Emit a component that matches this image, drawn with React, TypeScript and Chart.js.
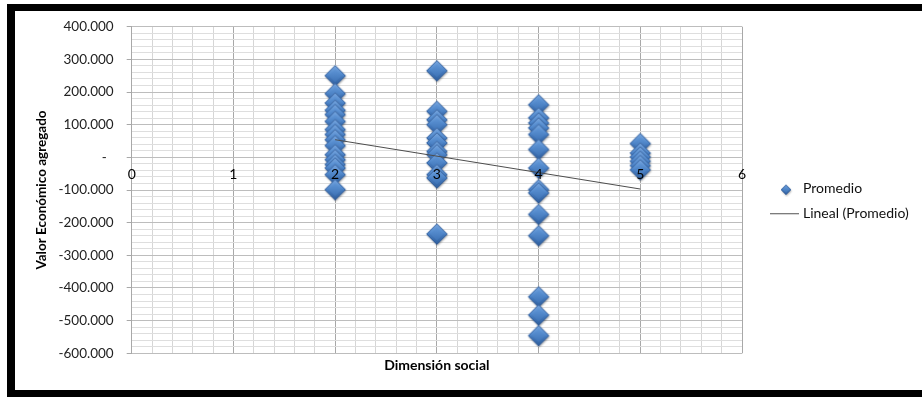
import { useEffect, useRef } from "react";
import { Chart, registerables } from "chart.js";

Chart.register(...registerables);

// "Promedio" values grouped by the social dimension score (x)
const promedioDim2 = [250000, 195000, 166000, 144000, 131000, 110000, 85000, 70000, 54000, 36000, 8000, -7000, -22000, -33000, -53000, -99000];
const promedioDim3 = [265000, 141000, 115000, 100000, 59000, 44000, 18000, 8000, -17000, -53000, -63000, -235000];
const promedioDim4 = [161000, 121000, 105000, 90000, 70000, 24000, -33000, -99000, -109000, -175000, -240000, -427000, -483000, -546000];
const promedioDim5 = [42000, 13000, 1000, -12000, -25000, -38000];
const dimensiones = [2, 3, 4, 5];

// Linear trend ("Lineal (Promedio)") end points
const tendenciaX = [2, 5];
const tendenciaY = [54000, -97000];

const X_MIN = 0;
const X_MAX = 6;
const Y_MIN = -600000;
const Y_MAX = 400000;

const SERIES_LABEL = "Promedio";
const TREND_LABEL = "Lineal (Promedio)";
const X_TITLE = "Dimensión social";
const Y_TITLE = "Valor Económico agregado";

const FONT = "Lato, 'Open Sans', sans-serif";
const W = 922;
const H = 397;

function formatMiles(v: number): string {
  if (v === 0) return "-  ";
  const s = Math.abs(v).toString().replace(/\B(?=(\d{3})+(?!\d))/g, ".");
  return (v < 0 ? "-" : "") + s;
}

function isWhole(v: number, step: number) {
  const q = v / step;
  return Math.abs(q - Math.round(q)) < 1e-9;
}

function makeDiamond(r: number, pad: number): HTMLCanvasElement {
  const size = Math.round(2 * r + 2 * pad);
  const c = document.createElement("canvas");
  c.width = size;
  c.height = size;
  const g = c.getContext("2d")!;
  const cx = size / 2;
  const cy = size / 2;
  const path = (rr: number) => {
    g.beginPath();
    g.moveTo(cx, cy - rr);
    g.lineTo(cx + rr, cy);
    g.lineTo(cx, cy + rr);
    g.lineTo(cx - rr, cy);
    g.closePath();
  };
  // soft drop shadow
  g.save();
  g.shadowColor = "rgba(0,0,0,0.35)";
  g.shadowBlur = 2;
  g.shadowOffsetX = 0.6;
  g.shadowOffsetY = 1.2;
  path(r);
  g.fillStyle = "#3b6cad";
  g.fill();
  g.restore();
  // body
  const grad = g.createLinearGradient(0, cy - r, 0, cy + r);
  grad.addColorStop(0, "#78a6de");
  grad.addColorStop(0.45, "#5189cd");
  grad.addColorStop(0.55, "#4479bc");
  grad.addColorStop(1, "#2e5d9b");
  path(r);
  g.fillStyle = grad;
  g.fill();
  // bevelled face
  const inner = g.createLinearGradient(0, cy - r * 0.6, 0, cy + r * 0.6);
  inner.addColorStop(0, "#5e95d6");
  inner.addColorStop(1, "#3e73b6");
  path(r * 0.62);
  g.fillStyle = inner;
  g.fill();
  g.lineWidth = 0.7;
  g.strokeStyle = "rgba(38,78,135,0.85)";
  path(r - 0.3);
  g.stroke();
  return c;
}

function buildPoints() {
  const groups = [promedioDim2, promedioDim3, promedioDim4, promedioDim5];
  const pts: { x: number; y: number }[] = [];
  groups.forEach((vals, i) => vals.forEach((v) => pts.push({ x: dimensiones[i], y: v })));
  return pts;
}

export default function App() {
  const canvasRef = useRef<HTMLCanvasElement | null>(null);

  useEffect(() => {
    if (!canvasRef.current) return;
    const diamond = makeDiamond(10.5, 2.5);
    const legendDiamond = makeDiamond(5, 2);

    // white sheet with a heavy black frame around the chart object
    const frame = {
      id: "frame",
      beforeDraw(chart: Chart) {
        const { ctx } = chart;
        ctx.save();
        ctx.fillStyle = "#fff";
        ctx.fillRect(0, 0, W, H);
        ctx.fillStyle = "#000";
        ctx.fillRect(7, 4, W - 7, 7);
        ctx.fillRect(7, 4, 8, H - 4);
        ctx.fillRect(7, 390, W - 7, 7);
        ctx.restore();
      },
    };

    const extras = {
      id: "extras",
      afterDraw(chart: Chart) {
        const { ctx, chartArea } = chart;
        ctx.save();
        // x axis title
        ctx.font = `bold 14px ${FONT}`;
        ctx.fillStyle = "#000";
        ctx.textAlign = "center";
        ctx.textBaseline = "middle";
        ctx.fillText(X_TITLE, (chartArea.left + chartArea.right) / 2, chartArea.bottom + 12.5);
        // legend
        const lx = chartArea.right + 28;
        const rows = [chartArea.top + 161.5, chartArea.top + 187];
        ctx.font = `14px ${FONT}`;
        ctx.textAlign = "left";
        chart.data.datasets.forEach((ds, i) => {
          const y = rows[i];
          if (i === 0) {
            ctx.drawImage(legendDiamond, lx + 16 - legendDiamond.width / 2, y + 1.5 - legendDiamond.height / 2);
          } else {
            ctx.strokeStyle = "#6e6e6e";
            ctx.lineWidth = 1.2;
            ctx.beginPath();
            ctx.moveTo(lx, y);
            ctx.lineTo(lx + 29, y);
            ctx.stroke();
          }
          ctx.fillStyle = "#111";
          ctx.fillText(String(ds.label), lx + 33, y);
        });
        ctx.restore();
      },
    };

    const xTicks: number[] = [];
    for (let i = X_MIN * 5; i <= X_MAX * 5; i++) xTicks.push(i / 5);
    const yTicks: number[] = [];
    for (let v = Y_MIN; v <= Y_MAX; v += 20000) yTicks.push(v);

    const chart = new Chart(canvasRef.current, {
      type: "scatter",
      data: {
        datasets: [
          {
            label: SERIES_LABEL,
            data: buildPoints(),
            pointStyle: diamond,
            pointRadius: 10.5,
            order: 1,
          },
          {
            label: TREND_LABEL,
            data: tendenciaX.map((x, i) => ({ x, y: tendenciaY[i] })),
            showLine: true,
            borderColor: "#4d4d4d",
            borderWidth: 1,
            pointRadius: 0,
            order: 0,
          },
        ],
      },
      options: {
        responsive: false,
        maintainAspectRatio: false,
        animation: false,
        events: [],
        layout: { padding: { left: 0, top: 26.7, right: 180, bottom: 43.7 } },
        plugins: { legend: { display: false }, tooltip: { enabled: false } },
        scales: {
          x: {
            type: "linear",
            min: X_MIN,
            max: X_MAX,
            position: { y: 0 },
            afterBuildTicks: (axis: any) => {
              axis.ticks = xTicks.map((value) => ({ value }));
            },
            ticks: {
              autoSkip: false,
              maxRotation: 0,
              padding: 9,
              z: 1,
              color: "#000",
              font: { family: FONT, size: 14 },
              callback: (v: any) => (isWhole(Number(v), 1) ? String(Math.round(Number(v))) : ""),
            },
            grid: {
              drawTicks: false,
              lineWidth: 1,
              color: (c: any) => (isWhole(c.tick.value, 1) ? "#a8a8a8" : "#d6d6d6"),
            },
            border: { display: true, color: "#bdbdbd", width: 1 },
          },
          y: {
            type: "linear",
            min: Y_MIN,
            max: Y_MAX,
            afterBuildTicks: (axis: any) => {
              axis.ticks = yTicks.map((value) => ({ value }));
            },
            afterFit: (axis: any) => {
              axis.width = 131.7;
            },
            ticks: {
              autoSkip: false,
              padding: 13,
              color: "#222",
              font: { family: FONT, size: 13.5 },
              callback: (v: any) => (isWhole(Number(v), 100000) ? formatMiles(Number(v)) : ""),
            },
            grid: {
              tickLength: 5,
              lineWidth: 1,
              color: (c: any) => (isWhole(c.tick.value, 100000) ? "#bdbdbd" : "#dedede"),
              tickColor: (c: any) => (isWhole(c.tick.value, 100000) ? "#a8a8a8" : "rgba(0,0,0,0)"),
            },
            border: { display: true, color: "#a8a8a8", width: 1 },
            title: {
              display: true,
              text: Y_TITLE,
              color: "#000",
              font: { family: FONT, size: 13.5, weight: "bold" },
              padding: { top: 34, bottom: 0 },
            },
          },
        },
      },
      plugins: [frame, extras],
    } as any);

    return () => chart.destroy();
  }, []);

  return (
    <div style={{ position: "fixed", left: 0, top: 0, width: W, height: H, overflow: "hidden" }}>
      <canvas
        ref={canvasRef}
        width={W}
        height={H}
        style={{ position: "absolute", left: 0, top: 0, width: W, height: H, display: "block" }}
      />
    </div>
  );
}
